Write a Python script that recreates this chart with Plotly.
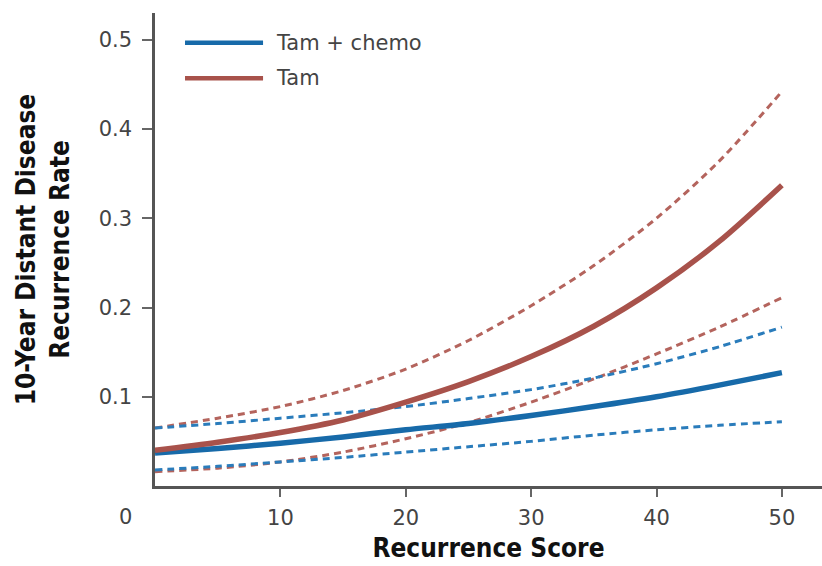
import plotly.graph_objects as go

# ---- data ----
recurrence_score = [0, 5, 10, 15, 20, 25, 30, 35, 40, 45, 50]

tam_chemo = [0.037, 0.042, 0.048, 0.055, 0.063, 0.070, 0.079, 0.089, 0.100, 0.113, 0.127]
tam_chemo_upper = [0.065, 0.070, 0.076, 0.082, 0.089, 0.098, 0.108, 0.121, 0.137, 0.156, 0.178]
tam_chemo_lower = [0.018, 0.022, 0.027, 0.032, 0.038, 0.044, 0.050, 0.057, 0.063, 0.068, 0.072]

tam = [0.040, 0.049, 0.060, 0.074, 0.094, 0.117, 0.145, 0.179, 0.222, 0.274, 0.337]
tam_upper = [0.065, 0.076, 0.089, 0.107, 0.131, 0.163, 0.202, 0.247, 0.300, 0.364, 0.442]
tam_lower = [0.016, 0.020, 0.027, 0.038, 0.053, 0.071, 0.094, 0.120, 0.148, 0.178, 0.211]

series_names = ["Tam + chemo", "Tam"]
x_tick_vals = [10, 20, 30, 40, 50]
y_tick_vals = [0.1, 0.2, 0.3, 0.4, 0.5]

BLUE = "#176aa9"
BLUE_D = "#2a7cbb"
RED = "#a8524b"
RED_D = "#b4645d"

fig = go.Figure()

def add(y, color, width, dash=None):
    fig.add_trace(go.Scatter(
        x=recurrence_score, y=y, mode="lines",
        line=dict(color=color, width=width, shape="spline", smoothing=0.8,
                  dash=dash if dash else "solid"),
        showlegend=False, hoverinfo="skip"))

add(tam_upper, RED_D, 3, "7px,5px")
add(tam_lower, RED_D, 3, "7px,5px")
add(tam_chemo_upper, BLUE_D, 3, "7px,5px")
add(tam_chemo_lower, BLUE_D, 3, "7px,5px")
add(tam_chemo, BLUE, 5.5)
add(tam, RED, 5.5)

TICK_FONT = dict(family="DejaVu Sans, Arial, sans-serif", size=21, color="#444444")
TITLE_FONT = dict(family="DejaVu Sans Condensed, DejaVu Sans, Arial, sans-serif",
                  size=26, color="#111111", weight="bold")

fig.update_layout(
    width=822, height=566,
    margin=dict(l=155, r=0, t=13, b=80),
    paper_bgcolor="white", plot_bgcolor="white",
    showlegend=False,
    xaxis=dict(
        range=[0, 53.2], tickvals=x_tick_vals, ticktext=[str(v) for v in x_tick_vals],
        showgrid=False, zeroline=False, showline=True, linecolor="#555555", linewidth=2.5,
        ticks="outside", ticklen=8, tickwidth=2, tickcolor="#666666",
        tickfont=TICK_FONT, ticklabelstandoff=3,
        title=dict(text="Recurrence Score", font=TITLE_FONT, standoff=10),
    ),
    yaxis=dict(
        range=[0, 0.53], tickvals=y_tick_vals, ticktext=[f"{v:.1f}" for v in y_tick_vals],
        showgrid=False, zeroline=False, showline=True, linecolor="#555555", linewidth=2.5,
        ticks="outside", ticklen=10, tickwidth=2, tickcolor="#666666",
        tickfont=TICK_FONT, ticklabelstandoff=6,
        title=dict(text="10-Year Distant Disease<br>Recurrence Rate", font=TITLE_FONT, standoff=22),
    ),
)

# "0" label offset to the left of the axis corner, as in the reference
fig.add_annotation(text="0", xref="paper", yref="paper", x=-0.0435, y=-0.0655,
                   xanchor="center", yanchor="middle", showarrow=False, font=TICK_FONT)

# custom legend (long line samples)
legend_colors = [BLUE, RED]
legend_y = [0.937, 0.862]
for name, col, ly in zip(series_names, legend_colors, legend_y):
    fig.add_shape(type="line", xref="paper", yref="paper", x0=0.045, x1=0.162, y0=ly, y1=ly,
                  line=dict(color=col, width=4.5))
    fig.add_annotation(text=name, xref="paper", yref="paper", x=0.178, y=ly,
                       xanchor="left", yanchor="middle", showarrow=False,
                       font=dict(family="DejaVu Sans, Arial, sans-serif", size=21, color="#444444"))

fig.write_html("out.html", config={"displayModeBar": False},
               post_script="document.body.style.margin='0px';")
